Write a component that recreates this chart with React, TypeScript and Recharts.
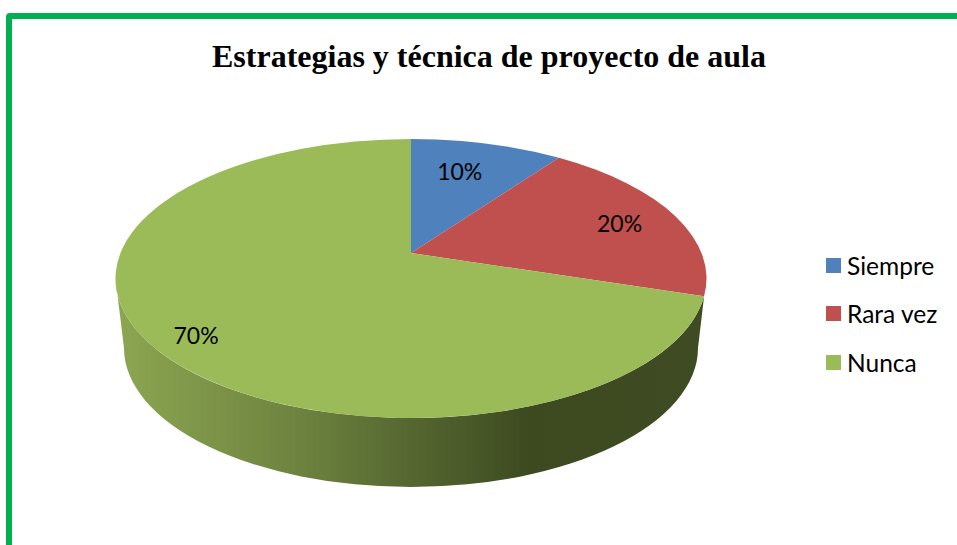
import { Legend, Pie, PieChart } from 'recharts'

const categories = ['Siempre', 'Rara vez', 'Nunca']
const values = [10, 20, 70]
const colors = ['#4f81bd', '#c0504d', '#9bbb59']
const title = 'Estrategias y técnica de proyecto de aula'

// nudges for the percentage labels, same order as categories
const labelFractions = [0.72, 0.8, 0.81]
const labelShift = [
  [-6, -3],
  [0, 2],
  [-1, 11],
]

const FONT = 'Lato, "Open Sans", sans-serif'

// the disc is a tilted circle, so the pie centre sits above the ellipse centre
const SQUASH = 0.472
const PERSPECTIVE = 0.826
const APEX_LIFT = 25.5
const BOTTOM = { dy: 69.5, rx: 287, ry: 139 }

const rad = (d: number) => (d * Math.PI) / 180

// clockwise degrees from 12 o'clock on the circle -> same on the ellipse
const toEllipse = (theta: number) =>
  (2 * Math.atan2(PERSPECTIVE * Math.sin(rad(theta) / 2), Math.cos(rad(theta) / 2)) * 180) / Math.PI

const onEllipse = (cx: number, cy: number, rx: number, ry: number, phi: number) => ({
  x: cx + rx * Math.sin(rad(phi)),
  y: cy - ry * Math.cos(rad(phi)),
})

function Slice(props: any) {
  const { cx, cy, outerRadius, startAngle, endAngle, fill, index } = props
  const rx = outerRadius
  const ry = rx * SQUASH
  const a = toEllipse(90 - startAngle)
  const b = toEllipse(90 - endAngle)
  const p0 = onEllipse(cx, cy, rx, ry, a)
  const p1 = onEllipse(cx, cy, rx, ry, b)
  const large = b - a > 180 ? 1 : 0

  const sideFrom = Math.max(a, 90)
  const sideTo = Math.min(b, 270)
  const hasSide = sideTo - sideFrom > 20
  let side = ''
  if (hasSide) {
    const t0 = onEllipse(cx, cy, rx, ry, sideFrom)
    const t1 = onEllipse(cx, cy, rx, ry, sideTo)
    const b0 = onEllipse(cx, cy + BOTTOM.dy, BOTTOM.rx, BOTTOM.ry, 90)
    const b1 = onEllipse(cx, cy + BOTTOM.dy, BOTTOM.rx, BOTTOM.ry, sideTo)
    side = `M${t0.x},${t0.y} A${rx},${ry} 0 0 1 ${t1.x},${t1.y} L${b1.x},${b1.y} A${BOTTOM.rx},${BOTTOM.ry} 0 0 0 ${b0.x},${b0.y} Z`
  }

  return (
    <g>
      {hasSide && (
        <>
          <defs>
            <linearGradient id={`side${index}`} gradientUnits="userSpaceOnUse" x1={cx - rx} y1="0" x2={cx + rx} y2="0">
              <stop offset="0%" stopColor="#8ca651" />
              <stop offset="30%" stopColor="#6f8440" />
              <stop offset="50%" stopColor="#556730" />
              <stop offset="70%" stopColor="#3d4a20" />
              <stop offset="100%" stopColor="#3f4b22" />
            </linearGradient>
          </defs>
          <path d={side} fill={`url(#side${index})`} />
        </>
      )}
      <path
        d={`M${cx},${cy - APEX_LIFT} L${p0.x},${p0.y} A${rx},${ry} 0 ${large} 1 ${p1.x},${p1.y} Z`}
        fill={fill}
      />
    </g>
  )
}

function PercentLabel(props: any) {
  const { cx, cy, outerRadius, midAngle, percent, index } = props
  const rx = outerRadius
  const ry = rx * SQUASH
  const edge = onEllipse(cx, cy, rx, ry, toEllipse(90 - midAngle))
  const apexY = cy - APEX_LIFT
  const f = labelFractions[index]
  return (
    <text
      x={cx + (edge.x - cx) * f + labelShift[index][0]}
      y={apexY + (edge.y - apexY) * f + labelShift[index][1]}
      textAnchor="middle"
      dominantBaseline="central"
      fontFamily={FONT}
      fontSize={23}
      fill="#000"
    >
      {`${Math.round(percent * 100)}%`}
    </text>
  )
}

function LegendList({ payload }: any) {
  return (
    <div>
      {(payload || []).map((item: any) => (
        <div key={item.value} style={{ display: 'flex', alignItems: 'center', height: 48.5 }}>
          <span style={{ width: 15, height: 15, background: item.color, marginRight: 6 }} />
          <span style={{ fontFamily: FONT, fontSize: 24.5, color: '#000' }}>{item.value}</span>
        </div>
      ))}
    </div>
  )
}

export default function App() {
  const pieData = categories.map((name, i) => ({ name, value: values[i], fill: colors[i] }))

  return (
    <div style={{ position: 'absolute', left: 0, top: 0, width: 957, height: 545, overflow: 'hidden', background: '#fff' }}>
      <div
        style={{
          position: 'absolute',
          left: 6,
          top: 13,
          width: 1000,
          height: 600,
          border: '6px solid #00b050',
          borderRadius: 4,
        }}
      />
      <div
        style={{
          position: 'absolute',
          left: 0,
          width: 978,
          top: 38,
          textAlign: 'center',
          fontFamily: '"Liberation Serif", serif',
          fontWeight: 'bold',
          fontSize: 32,
          color: '#000',
          whiteSpace: 'nowrap',
        }}
      >
        {title}
      </div>
      <div style={{ position: 'absolute', left: 0, top: 0 }}>
        <PieChart width={957} height={545} margin={{ top: 0, right: 0, bottom: 0, left: 0 }}>
          <Pie
            data={pieData}
            dataKey="value"
            nameKey="name"
            cx={411}
            cy={278.5}
            outerRadius={295.5}
            startAngle={90}
            endAngle={-270}
            stroke="none"
            isAnimationActive={false}
            shape={Slice}
            label={PercentLabel}
            labelLine={false}
          />
          <Legend
            layout="vertical"
            align="right"
            verticalAlign="top"
            itemSorter={null}
            content={LegendList}
            wrapperStyle={{ left: 826, top: 241, width: 131 }}
          />
        </PieChart>
      </div>
    </div>
  )
}
